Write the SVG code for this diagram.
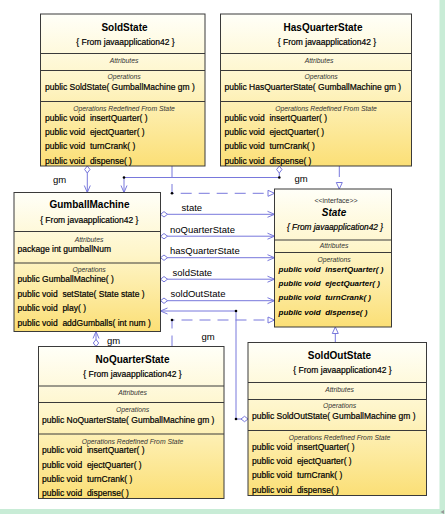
<svg xmlns="http://www.w3.org/2000/svg" width="445" height="514" viewBox="0 0 445 514">
<defs>
<linearGradient id="g" x1="0" y1="0" x2="0" y2="1">
<stop offset="0" stop-color="#fffff8"/>
<stop offset="0.45" stop-color="#fef5c8"/>
<stop offset="1" stop-color="#fbdf76"/>
</linearGradient>
<marker id="dia" markerUnits="userSpaceOnUse" markerWidth="10" markerHeight="8" refX="0.5" refY="3" orient="auto" overflow="visible">
<path d="M0.5,3 L4,0.3 L7.5,3 L4,5.7 Z" fill="#ffffff" stroke="#7878dc" stroke-width="1"/>
</marker>
<marker id="arr" markerUnits="userSpaceOnUse" markerWidth="10" markerHeight="8" refX="7" refY="3" orient="auto" overflow="visible">
<path d="M0,0 L7,3 L0,6" fill="none" stroke="#7878dc" stroke-width="1"/>
</marker>
<marker id="tri" markerUnits="userSpaceOnUse" markerWidth="10" markerHeight="8" refX="7" refY="3" orient="auto" overflow="visible">
<path d="M0.5,0 L7,3 L0.5,6 Z" fill="#ffffff" stroke="#7878dc" stroke-width="1" stroke-dasharray="none"/>
</marker>
</defs>
<style>
.bx{fill:url(#g);stroke:#3a3a3a;stroke-width:1}
.dv{stroke:#3a3a3a;stroke-width:1}
text{font-family:"Liberation Sans",Arial,sans-serif;fill:#000}
.ti{font-size:10px;font-weight:bold;text-anchor:middle}
.fr{font-size:8.5px;text-anchor:middle;stroke:#000;stroke-width:0.2}
.se{font-size:6.8px;font-style:italic;text-anchor:middle;fill:#333}
.op{font-size:8.5px;white-space:pre;stroke:#000;stroke-width:0.2}
.io{font-size:8px;font-weight:bold;font-style:italic;white-space:pre}
.lb{font-size:9.5px}
.c{stroke:#7878dc;stroke-width:1;fill:none}
.d{stroke-dasharray:11 7}
.dot{fill:#000}
</style>
<rect x="439.5" y="0" width="5.5" height="514" fill="#c8ecd6"/>
<rect x="0" y="509" width="445" height="5" fill="#c8ecd6"/>
<path d="M444,510 L440.5,512 L444,514 Z" fill="#999"/>

<g id="connectors">
<path class="c" d="M87.3,166 V192.5" marker-start="url(#dia)" marker-end="url(#arr)"/>
<path class="c" d="M279.3,166 V177.5 H124 V192.5" marker-start="url(#dia)" marker-end="url(#arr)"/>
<circle class="dot" cx="279.3" cy="177.5" r="1.3"/>
<circle class="dot" cx="124" cy="177.5" r="1.3"/>
<path class="c d" d="M172,166 V193.3 H274.5" marker-end="url(#tri)"/>
<circle class="dot" cx="172" cy="193.3" r="1.3"/>
<path class="c d" d="M339.3,166 V189" marker-end="url(#tri)"/>
<path class="c" d="M160.5,214.3 H274.5" marker-start="url(#dia)" marker-end="url(#arr)"/>
<path class="c" d="M160.5,236.2 H274.5" marker-start="url(#dia)" marker-end="url(#arr)"/>
<path class="c" d="M160.5,257.7 H274.5" marker-start="url(#dia)" marker-end="url(#arr)"/>
<path class="c" d="M160.5,279.2 H274.5" marker-start="url(#dia)" marker-end="url(#arr)"/>
<path class="c" d="M160.5,300.7 H274.5" marker-start="url(#dia)" marker-end="url(#arr)"/>
<path class="c" d="M248,419 H236 V311 H160.5" marker-start="url(#dia)" marker-end="url(#arr)"/>
<circle class="dot" cx="236" cy="419" r="1.3"/>
<circle class="dot" cx="236" cy="311" r="1.3"/>
<path class="c d" d="M172,346.5 V320 H274.5" marker-end="url(#tri)"/>
<circle class="dot" cx="172" cy="320" r="1.3"/>
<path class="c" d="M96,346.5 V331.5" marker-start="url(#dia)" marker-end="url(#arr)"/>
<path class="c d" d="M335.3,342.5 V327" marker-end="url(#tri)"/>
<text class="lb" x="53" y="183">gm</text>
<text class="lb" x="294.5" y="181.5">gm</text>
<text class="lb" x="181.5" y="211">state</text>
<text class="lb" x="170" y="233">noQuarterState</text>
<text class="lb" x="170" y="254">hasQuarterState</text>
<text class="lb" x="172.5" y="276">soldState</text>
<text class="lb" x="170.5" y="297">soldOutState</text>
<text class="lb" x="201.5" y="339.5">gm</text>
<text class="lb" x="107" y="343.5">gm</text>
</g>

<g id="SoldState">
<rect class="bx" x="40.5" y="14" width="164.5" height="152"/>
<line class="dv" x1="40.5" y1="53.5" x2="205" y2="53.5"/>
<line class="dv" x1="40.5" y1="70.5" x2="205" y2="70.5"/>
<line class="dv" x1="40.5" y1="101.5" x2="205" y2="101.5"/>
<text class="ti" x="124.5" y="30.6">SoldState</text>
<text class="fr" x="125.5" y="45">{ From javaapplication42 }</text>
<text class="se" x="124" y="63.3">Attributes</text>
<text class="se" x="124" y="79.3">Operations</text>
<text class="op" x="45" y="90">public SoldState( GumballMachine gm )</text>
<text class="se" x="124" y="111">Operations Redefined From State</text>
<text class="op" x="45" y="120.5">public void  insertQuarter( )</text>
<text class="op" x="45" y="135">public void  ejectQuarter( )</text>
<text class="op" x="45" y="149.2">public void  turnCrank( )</text>
<text class="op" x="45" y="163.5">public void  dispense( )</text>
</g>

<g id="HasQuarterState">
<rect class="bx" x="220.5" y="14" width="191" height="152"/>
<line class="dv" x1="220.5" y1="53.5" x2="411.5" y2="53.5"/>
<line class="dv" x1="220.5" y1="70.5" x2="411.5" y2="70.5"/>
<line class="dv" x1="220.5" y1="101.5" x2="411.5" y2="101.5"/>
<text class="ti" x="323" y="30.6">HasQuarterState</text>
<text class="fr" x="327" y="45">{ From javaapplication42 }</text>
<text class="se" x="319" y="63.3">Attributes</text>
<text class="se" x="321" y="79.3">Operations</text>
<text class="op" x="224.5" y="90">public HasQuarterState( GumballMachine gm )</text>
<text class="se" x="326" y="111">Operations Redefined From State</text>
<text class="op" x="224.5" y="120.5">public void  insertQuarter( )</text>
<text class="op" x="224.5" y="135">public void  ejectQuarter( )</text>
<text class="op" x="224.5" y="149.2">public void  turnCrank( )</text>
<text class="op" x="224.5" y="163.5">public void  dispense( )</text>
</g>

<g id="GumballMachine">
<rect class="bx" x="14" y="192.5" width="146.5" height="139"/>
<line class="dv" x1="14" y1="231.5" x2="160.5" y2="231.5"/>
<line class="dv" x1="14" y1="263" x2="160.5" y2="263"/>
<text class="ti" x="89.5" y="208">GumballMachine</text>
<text class="fr" x="89.3" y="223">{ From javaapplication42 }</text>
<text class="se" x="89" y="241.6">Attributes</text>
<text class="op" x="17.5" y="251.8">package int gumballNum</text>
<text class="se" x="89" y="272.3">Operations</text>
<text class="op" x="17.5" y="281.8">public GumballMachine( )</text>
<text class="op" x="17.5" y="296.8">public void  setState( State state )</text>
<text class="op" x="17.5" y="311.2">public void  play( )</text>
<text class="op" x="17.5" y="325.8">public void  addGumballs( int num )</text>
</g>

<g id="State">
<rect class="bx" x="274.5" y="189" width="117" height="138"/>
<line class="dv" x1="274.5" y1="240" x2="391.5" y2="240"/>
<line class="dv" x1="274.5" y1="252.5" x2="391.5" y2="252.5"/>
<text class="se" x="336" y="202.5" style="font-style:normal;font-size:7px">&lt;&lt;interface&gt;&gt;</text>
<text class="ti" x="334" y="216.3" style="font-style:italic">State</text>
<text class="fr" x="335" y="230" style="font-style:italic;font-size:8.3px">{ From javaapplication42 }</text>
<text class="se" x="334" y="248.3">Attributes</text>
<text class="se" x="334" y="261.6">Operations</text>
<text class="io" x="278.5" y="271.5">public void  insertQuarter( )</text>
<text class="io" x="278.5" y="285.8">public void  ejectQuarter( )</text>
<text class="io" x="278.5" y="300.2">public void  turnCrank( )</text>
<text class="io" x="278.5" y="314.8">public void  dispense( )</text>
</g>

<g id="NoQuarterState">
<rect class="bx" x="38.5" y="346.5" width="185.5" height="152"/>
<line class="dv" x1="38.5" y1="386" x2="224" y2="386"/>
<line class="dv" x1="38.5" y1="402.5" x2="224" y2="402.5"/>
<line class="dv" x1="38.5" y1="434" x2="224" y2="434"/>
<text class="ti" x="132.5" y="363">NoQuarterState</text>
<text class="fr" x="132.5" y="377">{ From javaapplication42 }</text>
<text class="se" x="132.5" y="395">Attributes</text>
<text class="se" x="132.5" y="412.3">Operations</text>
<text class="op" x="42" y="422.5">public NoQuarterState( GumballMachine gm )</text>
<text class="se" x="132.5" y="444">Operations Redefined From State</text>
<text class="op" x="42" y="453.2">public void  insertQuarter( )</text>
<text class="op" x="42" y="467.5">public void  ejectQuarter( )</text>
<text class="op" x="42" y="481.5">public void  turnCrank( )</text>
<text class="op" x="42" y="496">public void  dispense( )</text>
</g>

<g id="SoldOutState">
<rect class="bx" x="248" y="342.5" width="178.5" height="153"/>
<line class="dv" x1="248" y1="382.5" x2="426.5" y2="382.5"/>
<line class="dv" x1="248" y1="399.5" x2="426.5" y2="399.5"/>
<line class="dv" x1="248" y1="430.5" x2="426.5" y2="430.5"/>
<text class="ti" x="339.5" y="358.7">SoldOutState</text>
<text class="fr" x="342.5" y="373.3">{ From javaapplication42 }</text>
<text class="se" x="339.5" y="392.3">Attributes</text>
<text class="se" x="339.5" y="408.3">Operations</text>
<text class="op" x="252" y="418.5">public SoldOutState( GumballMachine gm )</text>
<text class="se" x="339.5" y="439.6">Operations Redefined From State</text>
<text class="op" x="252" y="449.8">public void  insertQuarter( )</text>
<text class="op" x="252" y="463.8">public void  ejectQuarter( )</text>
<text class="op" x="252" y="478.2">public void  turnCrank( )</text>
<text class="op" x="252" y="492.8">public void  dispense( )</text>
</g>
</svg>
